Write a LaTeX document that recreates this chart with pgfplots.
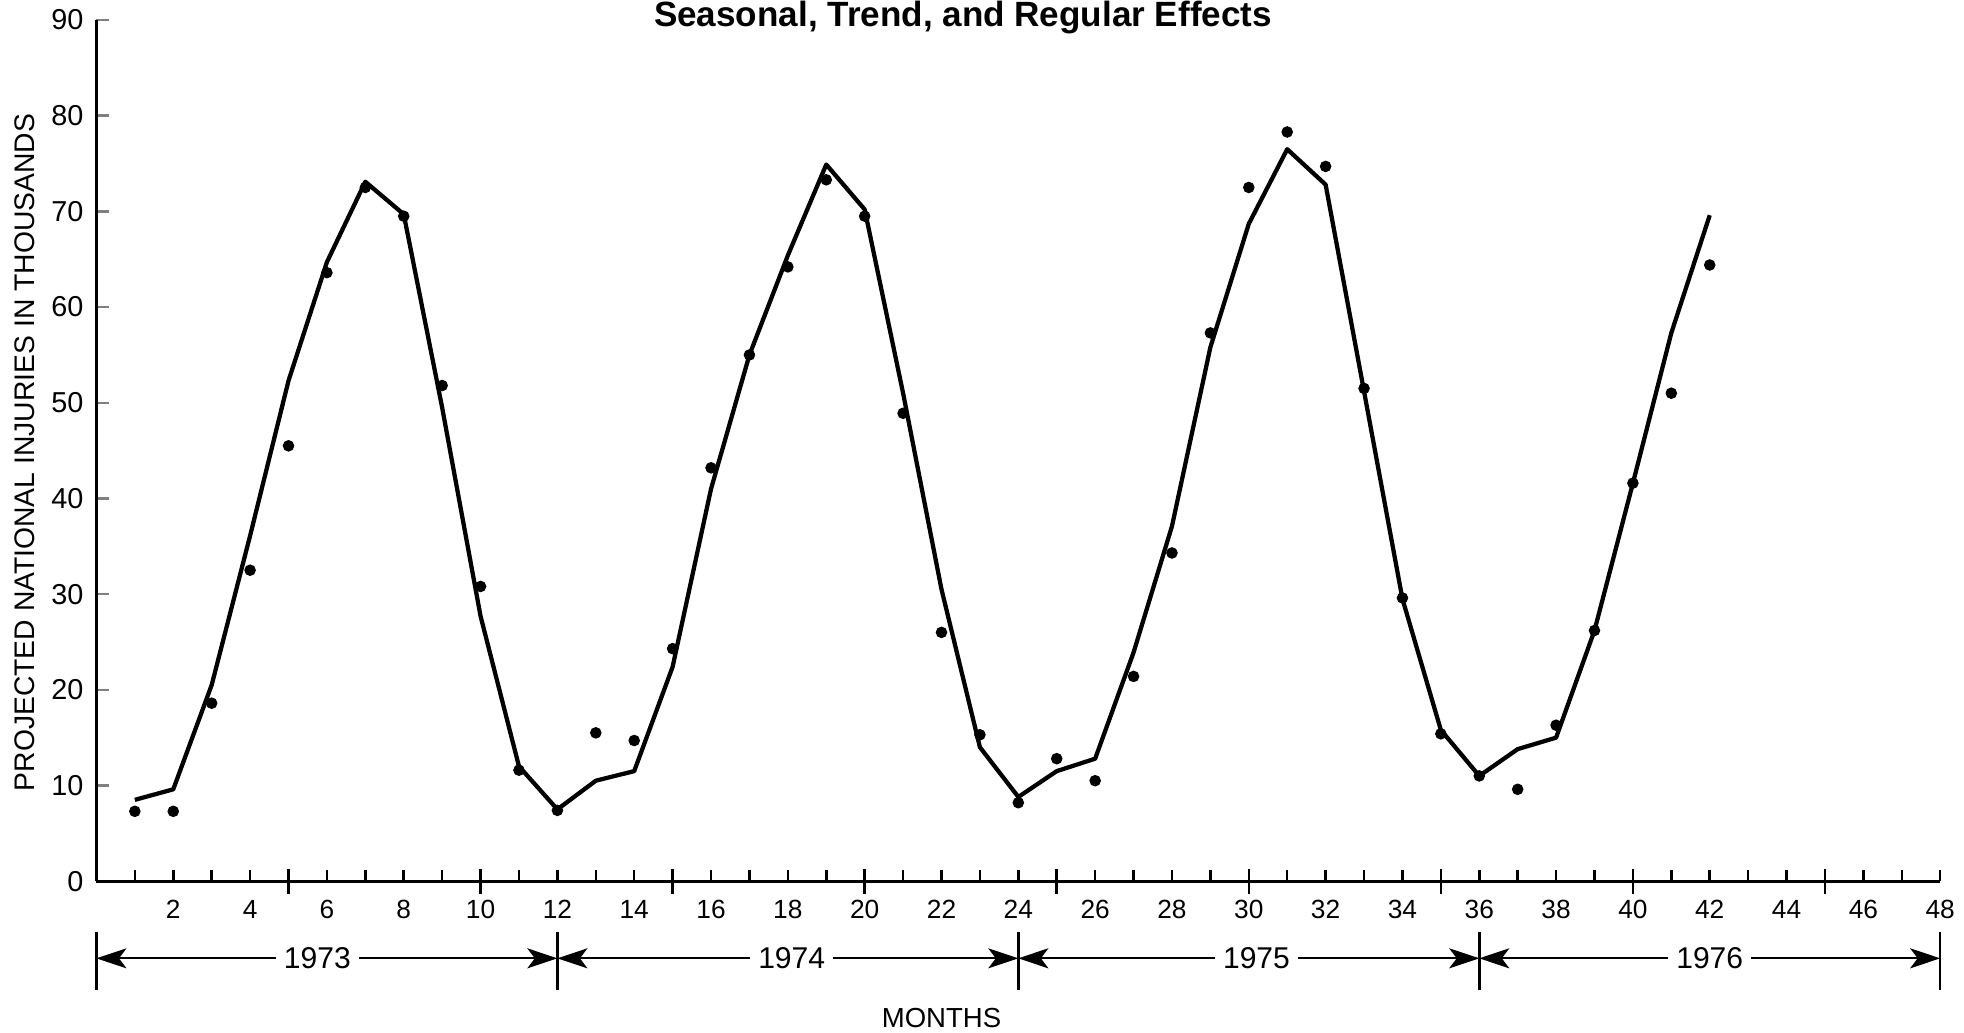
\documentclass[border=0pt]{standalone}
\usepackage{fontspec}
\setmainfont{Liberation Sans}
\usepackage{pgfplots}
\pgfplotsset{compat=1.18}
\usetikzlibrary{arrows.meta}

% fitted curve (seasonal + trend)
\pgfplotstableread{
m  v
1  8.5
2  9.6
3  20.5
4  36.1
5  52.3
6  64.7
7  73.1
8  69.7
9  49.5
10 27.7
11 12.0
12 7.5
13 10.5
14 11.5
15 22.4
16 41.0
17 55.0
18 65.4
19 74.9
20 70.2
21 51.0
22 30.5
23 14.0
24 8.8
25 11.5
26 12.8
27 23.9
28 37.1
29 55.8
30 68.7
31 76.5
32 72.8
33 51.2
34 29.5
35 15.8
36 11.0
37 13.8
38 15.0
39 26.2
40 41.6
41 57.3
42 69.6
}\fitted

% observed values
\pgfplotstableread{
m  v
1  7.3
2  7.3
3  18.6
4  32.5
5  45.5
6  63.6
7  72.5
8  69.5
9  51.8
10 30.8
11 11.6
12 7.4
13 15.5
14 14.7
15 24.3
16 43.2
17 55.0
18 64.2
19 73.3
20 69.5
21 48.9
22 26.0
23 15.3
24 8.2
25 12.8
26 10.5
27 21.4
28 34.3
29 57.3
30 72.5
31 78.3
32 74.7
33 51.5
34 29.6
35 15.4
36 11.0
37 9.6
38 16.3
39 26.2
40 41.6
41 51.0
42 64.4
}\observed

\begin{document}
\begin{tikzpicture}
\begin{axis}[
  scale only axis, width=736pt, height=343.75pt,
  xmin=0, xmax=48, ymin=0, ymax=90,
  axis lines*=left,
  axis line style={line width=1.3pt},
  clip=false,
  ytick={0,10,...,90},
  xtick={2,4,...,48},
  xtick style={draw=none},
  ytick style={line width=1pt},
  tick align=inside,
  major tick length=5pt,
  /pgf/number format/assume math mode=true,
  yticklabel style={font=\fontsize{11.5}{12}\selectfont, anchor=east, inner sep=0pt, xshift=-5pt},
  xticklabel style={font=\fontsize{10.5}{11}\selectfont, anchor=center, inner sep=0pt, yshift=-11.3pt},
]
\addplot[line width=1.7pt, line join=round] table[x=m, y=v] {\fitted};
\addplot[only marks, mark=*, mark size=2.1pt] table[x=m, y=v] {\observed};

% month ticks
\pgfplotsinvokeforeach{1,...,48}{\draw[line width=1pt] (axis cs:#1,0) -- ++(0pt,4.5pt);}
\pgfplotsinvokeforeach{5,10,...,45}{\draw[line width=1pt] ([yshift=-5pt]axis cs:#1,0) -- ++(0pt,10pt);}

% year brackets
\pgfplotsinvokeforeach{0,12,24,36,48}{\draw[line width=1pt] ([yshift=-20.4pt]axis cs:#1,0) -- ([yshift=-43.4pt]axis cs:#1,0);}
\tikzset{yr/.style={font=\fontsize{12}{13}\selectfont, inner sep=3pt},
         yarr/.style={line width=0.7pt, -{Stealth[length=12pt, width=8pt, inset=3pt]}}}
\node[yr] (a) at ([yshift=-30.8pt]axis cs:5.75,0) {1973};
\node[yr] (b) at ([yshift=-30.8pt]axis cs:18.1,0) {1974};
\node[yr] (c) at ([yshift=-30.8pt]axis cs:30.2,0) {1975};
\node[yr] (d) at ([yshift=-30.8pt]axis cs:42.0,0) {1976};
\draw[yarr] (a.west) -- ([yshift=-30.8pt]axis cs:0,0);
\draw[yarr] (a.east) -- ([yshift=-30.8pt]axis cs:12,0);
\draw[yarr] (b.west) -- ([yshift=-30.8pt]axis cs:12,0);
\draw[yarr] (b.east) -- ([yshift=-30.8pt]axis cs:24,0);
\draw[yarr] (c.west) -- ([yshift=-30.8pt]axis cs:24,0);
\draw[yarr] (c.east) -- ([yshift=-30.8pt]axis cs:36,0);
\draw[yarr] (d.west) -- ([yshift=-30.8pt]axis cs:36,0);
\draw[yarr] (d.east) -- ([yshift=-30.8pt]axis cs:48,0);

\node[font=\fontsize{11}{12}\selectfont] at ([yshift=-54.5pt]axis cs:22,0) {MONTHS};
\node[rotate=90, font=\fontsize{11.3}{12}\selectfont] at ([xshift=-28.5pt]axis cs:0,44.8) {PROJECTED NATIONAL INJURIES IN THOUSANDS};
\node[anchor=base, font=\bfseries\fontsize{14}{15}\selectfont] at ([yshift=-2.6pt]axis cs:22.56,90) {Seasonal, Trend, and Regular Effects};

\coordinate (bbsw) at ([xshift=-38.5pt, yshift=-60.25pt]axis cs:0,0);
\coordinate (bbne) at ([xshift=9.5pt, yshift=8pt]axis cs:48,90);
\end{axis}
\pgfresetboundingbox
\useasboundingbox (bbsw) rectangle (bbne);
\end{tikzpicture}
\end{document}
